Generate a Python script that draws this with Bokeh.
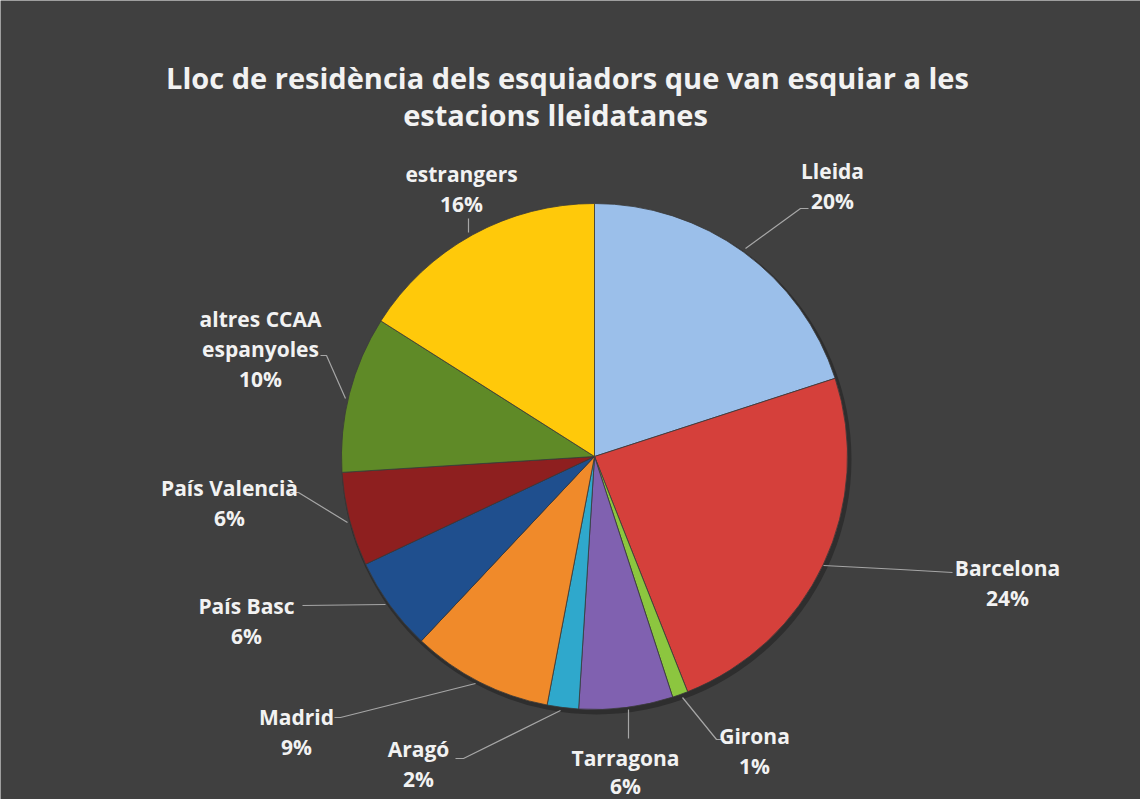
import math
from bokeh.plotting import figure
from bokeh.models import Range1d, ColumnDataSource
from bokeh.core.properties import value
from bokeh.embed import file_html
from bokeh.resources import INLINE

# ---- data ----
categories = ["Lleida", "Barcelona", "Girona", "Tarragona", "Aragó", "Madrid",
              "País Basc", "País Valencià", "altres CCAA espanyoles", "estrangers"]
label_names = [["Lleida"], ["Barcelona"], ["Girona"], ["Tarragona"], ["Aragó"], ["Madrid"],
               ["País Basc"], ["País Valencià"], ["altres CCAA", "espanyoles"], ["estrangers"]]
values = [20, 24, 1, 6, 2, 9, 6, 6, 10, 16]
colors = ["#9BBFEA", "#D5403B", "#8CC63F", "#8061B0", "#2FA8CC", "#F08A2A",
          "#1F4F8E", "#8E1F1F", "#5F8A27", "#FFC90A"]
title_lines = ["Lloc de residència dels esquiadors que van esquiar a les",
               "estacions lleidatanes"]

# ---- layout ----
W, H = 1140, 799
BG = "#404040"

def Y(py):
    return H - py

p = figure(width=W, height=H, output_backend="svg", toolbar_location=None,
           x_range=Range1d(0, W), y_range=Range1d(0, H), min_border=0,
           background_fill_color=BG, border_fill_color=BG, outline_line_color=None)
p.axis.visible = False
p.grid.visible = False

cx, cy, R = 594, 456, 253
total = float(sum(values))
starts, ends = [], []
cum = 0.0
for v in values:
    starts.append(math.pi / 2 - 2 * math.pi * cum / total)
    cum += v
    ends.append(math.pi / 2 - 2 * math.pi * cum / total)

# shadow ring
p.circle(x=[cx + 2], y=[Y(cy) - 3], radius=R + 2, fill_color="#2E2E2E", line_color=None)

src = ColumnDataSource(dict(cat=categories, start=starts, end=ends, color=colors))
p.wedge(x=cx, y=Y(cy), radius=R, start_angle="start", end_angle="end",
        direction="clock", fill_color="color", line_color="#3A3A3A", line_width=0.8,
        source=src)

# title
title_pos = [(567, 77), (555, 114)]
for t, (tx, ty) in zip(title_lines, title_pos):
    p.text(x=[tx], y=[Y(ty)], text=[t], text_font=value("Open Sans"),
           text_font_style="bold", text_font_size="29px", text_color="#F2F2F2",
           text_align="center", text_baseline="middle")

# labels: (center x, first line center y)
label_pos = [(832, 170), (1007, 567), (754, 735), (625, 757), (418, 748),
             (296, 716), (246, 605), (229, 487), (260, 318), (461, 173)]
line_gap = [30, 30, 30, 28, 30, 30, 30, 30, 30, 30]
leaders = [
    [(745, 248), (800, 208), (808, 208)],
    [(823, 565), (900, 569), (952, 572)],
    [(682, 697), (716, 739), (723, 739)],
    [(628, 709), (628, 738)],
    [(560, 710), (463, 758), (455, 758)],
    [(475, 683), (340, 717), (334, 717)],
    [(385, 604), (302, 605)],
    [(347, 522), (298, 492), (290, 492)],
    [(345, 398), (326, 355), (320, 355)],
    [(468, 232), (468, 218)],
]
for pts in leaders:
    p.line(x=[a for a, b in pts], y=[Y(b) for a, b in pts], line_color="#A6A6A6", line_width=1.2)

for names, v, (lx, ly), gap in zip(label_names, values, label_pos, line_gap):
    lines = names + [f"{v}%"]
    for i, t in enumerate(lines):
        p.text(x=[lx], y=[Y(ly + i * gap)], text=[t], text_font=value("Open Sans"),
               text_font_style="bold", text_font_size="21px", text_color="#F2F2F2",
               text_align="center", text_baseline="middle")

open("out.html", "w").write(file_html(p, INLINE))
